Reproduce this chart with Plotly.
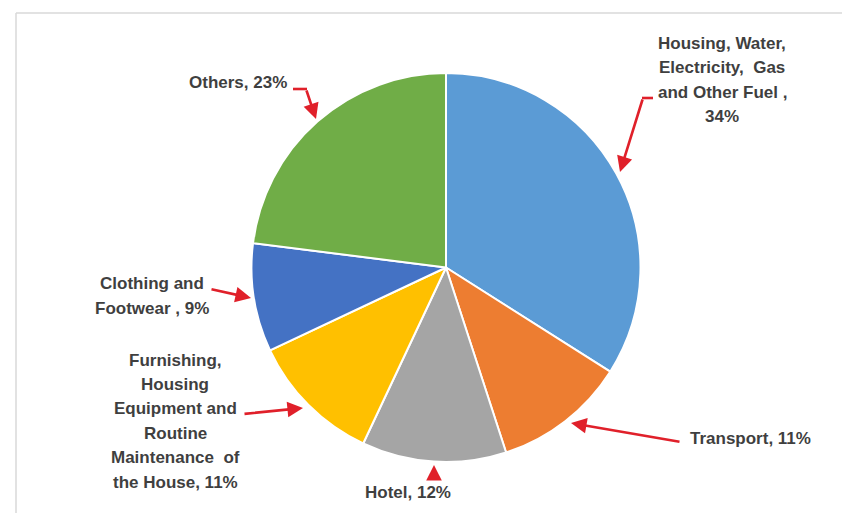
import plotly.graph_objects as go

# ---- data ----
categories = [
    "Housing, Water, Electricity, Gas and Other Fuel",
    "Transport",
    "Hotel",
    "Furnishing, Housing Equipment and Routine Maintenance of the House",
    "Clothing and Footwear",
    "Others",
]
shares = [34, 11, 12, 11, 9, 23]
colors = ["#5B9BD5", "#ED7D31", "#A5A5A5", "#FFC000", "#4472C4", "#70AD47"]
label_lines = [
    ["Housing, Water,", "Electricity,  Gas", "and Other Fuel ,", ""],
    ["Transport, "],
    ["Hotel, "],
    ["Furnishing,", "Housing", "Equipment and", "Routine", "Maintenance  of", "the House, "],
    ["Clothing and", "Footwear , "],
    ["Others, "],
]

# ---- layout helpers (pixel -> paper) ----
W, H = 842, 513
def px(x):
    return x / W
def py(y):
    return 1 - y / H

# label block centres (pixels)
label_pos = [(722, 80), (750, 438), (408, 492), (175, 421), (152, 296), (238, 83)]
LINE_H = 24.4
FONT = dict(family="Liberation Sans Narrow, Arial Narrow, Liberation Sans, sans-serif",
            size=17, color="#3F3F3F", weight="bold")
RED = "#E0202A"

# arrows: (tail_x, tail_y, tip_x, tip_y) and optional bend lead-in segments
arrows = [
    (643, 98, 620, 172),
    (681, 442, 571, 423),
    (434, 477, 434, 465),
    (243, 414, 303, 408),
    (210, 289, 251, 298),
    (306, 89, 316, 119),
]
lead_ins = [
    (653, 98, 642, 98),
    (293, 89, 307, 89),
]

fig = go.Figure()
fig.add_trace(go.Pie(
    labels=categories,
    values=shares,
    marker=dict(colors=colors, line=dict(color="white", width=2)),
    sort=False,
    direction="clockwise",
    rotation=0,
    textinfo="none",
    hoverinfo="label+percent",
    showlegend=False,
    domain=dict(x=[px(251), px(641)], y=[py(462), py(73)]),
))

annotations = []
for lines, (cx, cy), v in zip(label_lines, label_pos, shares):
    lines = list(lines)
    lines[-1] = lines[-1] + f"{v}%"
    n = len(lines)
    for i, t in enumerate(lines):
        y = cy + (i - (n - 1) / 2) * LINE_H
        annotations.append(dict(x=px(cx), y=py(y), xref="paper", yref="paper",
                                text=t, showarrow=False, font=FONT,
                                xanchor="center", yanchor="middle"))

for (tx, ty, hx, hy) in arrows:
    annotations.append(dict(x=px(hx), y=py(hy), xref="paper", yref="paper",
                            ax=tx - hx, ay=ty - hy, text="", showarrow=True,
                            arrowhead=2, arrowsize=1.2, arrowwidth=2.6,
                            arrowcolor=RED, standoff=0, startstandoff=0))

shapes = []
for (x0, y0, x1, y1) in lead_ins:
    shapes.append(dict(type="line", xref="paper", yref="paper",
                       x0=px(x0), y0=py(y0), x1=px(x1), y1=py(y1),
                       line=dict(color=RED, width=2.6)))
# chart border (top and left)
shapes.append(dict(type="line", xref="paper", yref="paper", x0=px(16), y0=py(13),
                   x1=1, y1=py(13), line=dict(color="#D9D9D9", width=1.5)))
shapes.append(dict(type="line", xref="paper", yref="paper", x0=px(16), y0=py(13),
                   x1=px(16), y1=0, line=dict(color="#D9D9D9", width=1.5)))

fig.update_layout(
    width=W, height=H,
    margin=dict(l=0, r=0, t=0, b=0),
    paper_bgcolor="white",
    plot_bgcolor="white",
    annotations=annotations,
    shapes=shapes,
)

fig.write_html("out.html")
